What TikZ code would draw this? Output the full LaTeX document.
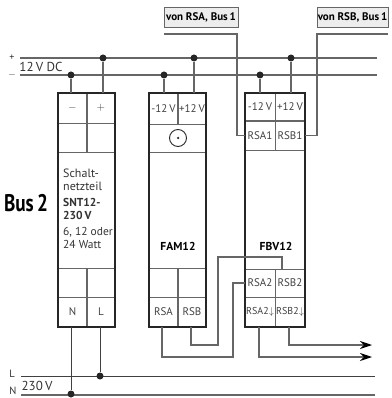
\documentclass[tikz,border=0pt]{standalone}
\usepackage{fontspec}
\setmainfont{PT Sans}
\usetikzlibrary{arrows.meta}

\definecolor{wiregray}{gray}{0.4}
\definecolor{tagfill}{gray}{0.93}

\begin{document}
\begin{tikzpicture}[
			x=1pt, y=-1pt,
			cell/.style={draw=wiregray, line width=0.9pt, inner sep=0pt, minimum width=29pt, font=\fontsize{11}{12}\selectfont, text=black!75},
			smallcell/.style={cell, minimum width=30pt, minimum height=30pt, font=\fontsize{10}{10}\selectfont},
			housing/.style={draw=black!85, line width=1.5pt, inner sep=0pt, minimum height=234pt},
			dot/.style={circle, fill=black!85, inner sep=0pt, minimum size=7pt},
			rail/.style={draw=wiregray, line width=1.2pt},
			thinwire/.style={draw=black!75, line width=0.8pt},
			graywire/.style={draw=wiregray, line width=1.1pt},
			outwire/.style={graywire, -{Stealth[length=12pt,width=8pt,inset=4pt,black]}},
			tag/.style={draw=wiregray, fill=tagfill, line width=0.8pt, inner sep=0pt, minimum height=20pt, font=\fontsize{11}{11}\bfseries\selectfont},
			railtext/.style={inner sep=0pt, font=\fontsize{13}{13}\selectfont, text=black!80},
			signtext/.style={inner sep=0pt, font=\fontsize{10}{10}\selectfont, text=black!80},
			modname/.style={inner sep=0pt, align=left, font=\fontsize{11.5}{12}\bfseries\selectfont},
		]
		\useasboundingbox (0,0) rectangle (391,398);

		%Rails
		\coordinate (plusl) at (20,58);
		\coordinate (plusr) at (377,58);
		\coordinate (minusl) at (20,75);
		\coordinate (minusr) at (377,75);
		\coordinate (linel) at (21,376);
		\coordinate (liner) at (375,376);
		\coordinate (neutl) at (21,395);
		\coordinate (neutr) at (375,395);
		\draw[rail] (plusl) -- (plusr);
		\draw[rail] (minusl) -- (minusr);
		\draw[thinwire] (linel) -- (liner);
		\draw[rail] (neutl) -- (neutr);

		%Power supply cells
		\node[cell, minimum height=30pt] (sntminus) at (72.5,108) {$-$};
		\node[cell, minimum height=30pt] (sntplus) at (101,108) {$+$};
		\node[cell, minimum height=29pt] (sntblankl) at (72.5,137.5) {};
		\node[cell, minimum height=29pt] (sntblankr) at (101,137.5) {};
		\node[cell, minimum height=29pt] (sntlowl) at (72.5,282.5) {};
		\node[cell, minimum height=29pt] (sntlowr) at (101,282.5) {};
		\node[cell, minimum height=30pt] (sntn) at (72.5,312) {N};
		\node[cell, minimum height=30pt] (sntl) at (101,312) {L};
		\node[housing, minimum width=57pt] (snt) at (86.5,210) {};
		\node[inner sep=0pt, anchor=north west, align=left, font=\fontsize{11.5}{12.5}\selectfont, text=black!80] (snttext) at (63,169) {\fontsize{12}{12.5}\selectfont Schalt-\\\fontsize{12}{12.5}\selectfont netzteil\\[4pt]{\bfseries SNT12-}\\{\bfseries 230\,V}\\[4pt]6, 12 oder\\24 Watt};

		%Bus module cells
		\node[cell, minimum height=31pt] (famminus) at (163.5,108.5) {-12\,V};
		\node[cell, minimum height=31pt] (famplus) at (192,108.5) {+12\,V};
		\node[cell, minimum width=57pt, minimum height=28pt] (famwheel) at (177.5,138) {};
		\node[circle, draw=black!85, line width=0.9pt, minimum size=17pt, inner sep=0pt] (wheel) at (178,138) {};
		\node[circle, fill=black!85, minimum size=2.5pt, inner sep=0pt] (wheelhub) at (wheel) {};
		\node[cell, minimum height=29pt] (famlowl) at (163.5,282.5) {};
		\node[cell, minimum height=29pt] (famlowr) at (192,282.5) {};
		\node[cell, minimum height=30pt] (famrsa) at (163.5,312) {RSA};
		\node[cell, minimum height=30pt] (famrsb) at (192,312) {RSB};
		\node[housing, minimum width=57pt] (fam) at (177.5,210) {};
		\node[modname] (famname) at (178,246) {FAM12};

		%Bus coupler cells
		\node[cell, minimum width=30pt, minimum height=28pt] (fbvminus) at (260,107) {-12\,V};
		\node[cell, minimum width=30pt, minimum height=28pt] (fbvplus) at (290,107) {+12\,V};
		\node[smallcell, font=\fontsize{11}{11}\selectfont] (fbvrsaone) at (260,135.5) {RSA1};
		\node[smallcell, font=\fontsize{11}{11}\selectfont] (fbvrsbone) at (290,135.5) {RSB1};
		\node[smallcell, minimum height=28pt, font=\fontsize{11}{11}\selectfont] (fbvrsatwo) at (260,283) {RSA2};
		\node[smallcell, minimum height=28pt, font=\fontsize{11}{11}\selectfont] (fbvrsbtwo) at (290,283) {RSB2};
		\node[smallcell] (fbvrsadown) at (260,312) {RSA2$\downarrow$};
		\node[smallcell] (fbvrsbdown) at (290,312) {RSB2$\downarrow$};
		\node[housing, minimum width=60pt] (fbv) at (275,210) {};
		\node[modname] (fbvname) at (276,246) {FBV12};

		%Tags
		\node[tag, minimum width=74pt] (tagrsa) at (201,17) {von RSA, Bus\,1};
		\node[tag, minimum width=71pt] (tagrsb) at (352.5,17) {von RSB, Bus\,1};

		%Labels
		\node[signtext] (pluslabel) at (12,58) {+};
		\node[signtext] (minuslabel) at (12,75) {$-$};
		\node[railtext] (dclabel) at (41,67) {12\,V DC};
		\node[signtext, font=\fontsize{10.5}{10.5}\selectfont] (llabel) at (12,374) {L};
		\node[signtext, font=\fontsize{10.5}{10.5}\selectfont] (nlabel) at (13,391) {N};
		\node[railtext] (aclabel) at (37,386) {230\,V};
		\node[inner sep=0pt, transform shape, xscale=0.8, font=\fontsize{24}{24}\bfseries\selectfont] (buslabel) at (26,203) {Bus\,2};

		%Dots
		\node[dot] (dotsntplus) at (103,58) {};
		\node[dot] (dotsntminus) at (71,75) {};
		\node[dot] (dotfamplus) at (194,58) {};
		\node[dot] (dotfamminus) at (164,75) {};
		\node[dot] (dotfbvplus) at (291,58) {};
		\node[dot] (dotfbvminus) at (260,75) {};
		\node[dot] (dotl) at (100,376) {};
		\node[dot] (dotn) at (71,394) {};

		%Supply lines
		\draw[graywire] (dotsntplus) -- (dotsntplus |- sntplus.north);
		\draw[graywire] (dotsntminus) -- (dotsntminus |- sntminus.north);
		\draw[graywire] (dotfamplus) -- (dotfamplus |- famplus.north);
		\draw[graywire] (dotfamminus) -- (dotfamminus |- famminus.north);
		\draw[graywire] (dotfbvplus) -- (dotfbvplus |- fbvplus.north);
		\draw[graywire] (dotfbvminus) -- (dotfbvminus |- fbvminus.north);
		\draw[thinwire, line width=1pt] (dotl |- sntl.south) -- (dotl);
		\draw[thinwire, line width=1pt] (dotn |- sntn.south) -- (dotn);

		%Bus lines
		\coordinate (rsatop) at (164,34);
		\coordinate (rsabend) at (237,34);
		\coordinate (rsbtop) at (388,34);
		\coordinate (rsbbend) at (317,34);
		\draw[graywire] (rsatop) -- (rsabend) |- (fbvrsaone.west);
		\draw[graywire] (rsbtop) -- (rsbbend) |- (fbvrsbone.east);

		\coordinate (famafoot) at (162,327);
		\coordinate (famalow) at (162,357);
		\coordinate (famarise) at (233,357);
		\coordinate (famatop) at (233,283);
		\draw[graywire] (famafoot) -- (famalow) -- (famarise) -- (famatop) -- (fbvrsatwo.west);

		\coordinate (fambfoot) at (191,327);
		\coordinate (famblow) at (191,345);
		\coordinate (fambrise) at (218,345);
		\coordinate (fambtop) at (218,257);
		\coordinate (fambdrop) at (282,257);
		\coordinate (fambend) at (282,269);
		\draw[graywire] (fambfoot) -- (famblow) -- (fambrise) -- (fambtop) -- (fambdrop) -- (fambend);

		%Outputs
		\coordinate (outafoot) at (259,327);
		\coordinate (outalow) at (259,357);
		\coordinate (outaend) at (372,357);
		\coordinate (outbfoot) at (289,327);
		\coordinate (outblow) at (289,345);
		\coordinate (outbend) at (372,345);
		\draw[outwire] (outafoot) -- (outalow) -- (outaend);
		\draw[outwire] (outbfoot) -- (outblow) -- (outbend);

	\end{tikzpicture}
\end{document}
